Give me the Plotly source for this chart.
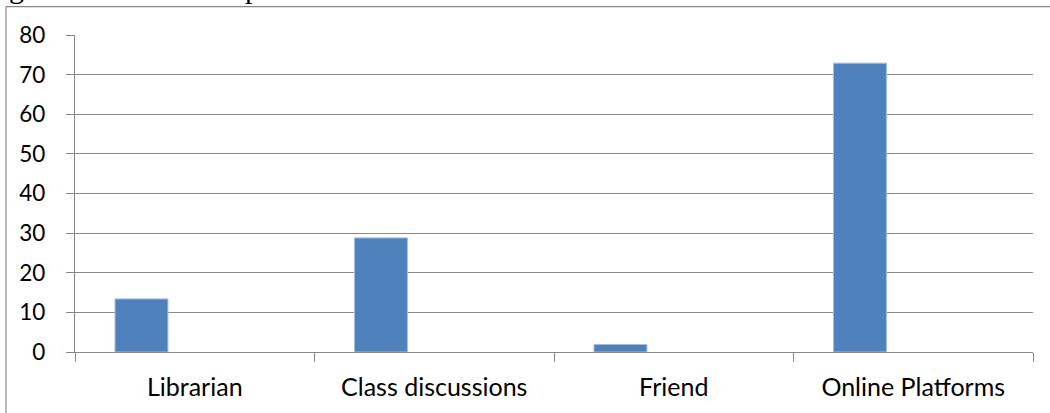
import plotly.graph_objects as go

# Survey: where students first heard about the resource
categories = ["Librarian", "Class discussions", "Friend", "Online Platforms"]
values = [13.4, 28.8, 1.9, 72.9]
y_tick_values = [0, 10, 20, 30, 40, 50, 60, 70, 80]

BAR_BLUE = "#4F81BD"
LINE_GRAY = "#888888"
X_FONT = dict(family="Lato, Calibri, sans-serif", size=25, color="#000000")
Y_FONT = dict(family="Lato, Calibri, sans-serif", size=22.5, color="#000000")

W, H = 1050, 413
M_L, M_R, M_T, M_B = 75, 17, 35, 61
plot_w = W - M_L - M_R
plot_h = H - M_T - M_B


def px_x(px):
    return (px - M_L) / plot_w


def px_y(py):
    return (H - M_B - py) / plot_h


fig = go.Figure(
    go.Bar(
        x=categories,
        y=values,
        width=0.221,
        offset=-0.333,
        marker=dict(color=BAR_BLUE, line=dict(color="#A3BEDE", width=1)),
        hoverinfo="x+y",
    )
)

# Frame around the chart object (left and top edges are inside the page)
fig.add_shape(type="line", xref="paper", yref="paper",
              x0=px_x(6), x1=px_x(6), y0=px_y(6.7), y1=px_y(430),
              line=dict(color=LINE_GRAY, width=1.2))
fig.add_shape(type="line", xref="paper", yref="paper",
              x0=px_x(6), x1=px_x(1070), y0=px_y(6.7), y1=px_y(6.7),
              line=dict(color=LINE_GRAY, width=1.2))

# Descenders of the caption line running above the chart
for ch, cx in (("g", 16), ("p", 252)):
    fig.add_annotation(text=ch, xref="paper", yref="paper",
                       x=px_x(cx), y=px_y(-12.5), xanchor="center", yanchor="middle",
                       showarrow=False,
                       font=dict(family="Liberation Serif, Times New Roman, serif",
                                 size=30, color="#000000"))

fig.update_layout(
    width=W,
    height=H,
    margin=dict(l=M_L, r=M_R, t=M_T, b=M_B, pad=0),
    paper_bgcolor="#FFFFFF",
    plot_bgcolor="#FFFFFF",
    showlegend=False,
    xaxis=dict(
        type="category",
        range=[-0.5, 3.5],
        showline=True,
        linecolor=LINE_GRAY,
        linewidth=1.3,
        ticks="outside",
        tickson="boundaries",
        ticklen=9,
        tickwidth=1.3,
        tickcolor=LINE_GRAY,
        showgrid=False,
        zeroline=False,
        tickfont=X_FONT,
        ticklabelstandoff=13,
    ),
    yaxis=dict(
        range=[0, 80],
        tickvals=y_tick_values,
        showgrid=True,
        gridcolor=LINE_GRAY,
        gridwidth=1.3,
        showline=True,
        linecolor=LINE_GRAY,
        linewidth=1.3,
        ticks="outside",
        ticklen=8,
        tickwidth=1.3,
        tickcolor=LINE_GRAY,
        zeroline=False,
        tickfont=Y_FONT,
        ticklabelstandoff=16,
    ),
)

fig.write_html("out.html")
